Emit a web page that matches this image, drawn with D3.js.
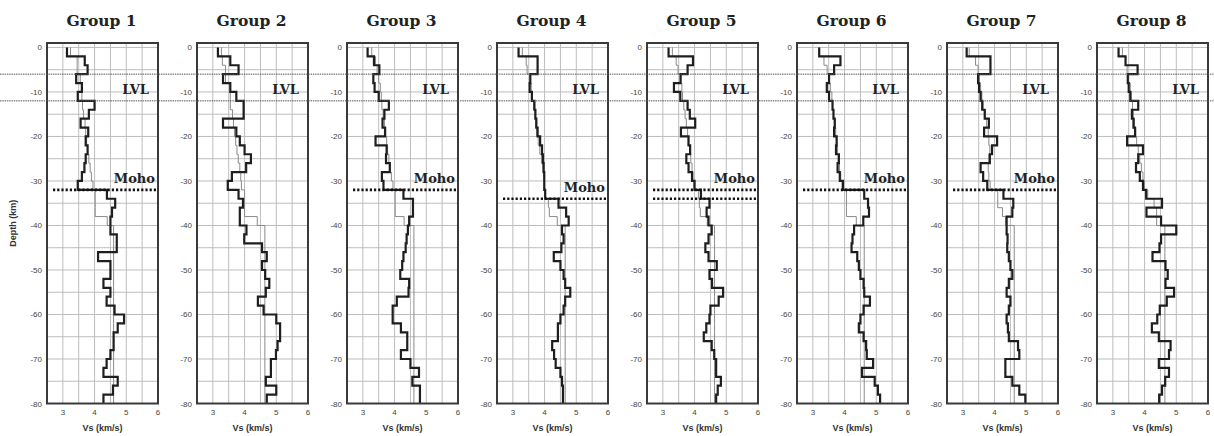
<!DOCTYPE html>
<html>
<head>
<meta charset="utf-8">
<script src="https://cdn.jsdelivr.net/npm/d3@7/dist/d3.min.js"></script>
<style>
  body { margin: 0; background: #fff; }
  svg { display: block; }
  .tick-label { font-family: "Liberation Sans", Arial, sans-serif; font-size: 8px; fill: #444; }
  .axis-title { font-family: "Liberation Sans", Arial, sans-serif; font-size: 9px; font-weight: bold; fill: #333; }
  .title { font-family: "DejaVu Serif", serif; font-size: 15.5px; font-weight: bold; fill: #222; }
  .note { font-family: "DejaVu Serif", serif; font-size: 13px; font-weight: bold; fill: #222; }
</style>
</head>
<body>
<svg id="chart"></svg>
<script>
'use strict';

var width = 1214, height = 436;

// Panel names
var groups = ["Group 1", "Group 2", "Group 3", "Group 4", "Group 5", "Group 6", "Group 7", "Group 8"];

// Layer tops (km), 2 km thick layers from surface to 80 km
var layerTops = d3.range(0, 80, 2);
var layerThickness = 2;

// Inverted Vs (km/s) per layer -- thick black line
var vsGroup1 = [3.13,3.69,3.78,3.42,3.6,3.47,4.0,3.82,3.56,3.8,3.72,3.78,3.72,3.68,3.6,3.47,
                4.39,4.65,4.55,4.5,4.5,4.7,4.7,4.11,4.5,4.5,4.28,4.5,4.38,4.63,4.93,4.73,4.6,4.6,4.5,4.38,4.28,4.73,4.58,4.28];
var vsGroup2 = [3.16,3.55,3.81,3.32,3.55,3.74,3.97,3.97,3.32,3.74,3.85,4.0,4.2,4.05,3.6,3.47,
                3.81,3.95,3.85,3.85,4.06,3.99,4.55,4.7,4.55,4.65,4.78,4.67,4.42,4.6,5.0,5.12,5.12,5.04,4.99,4.83,4.83,4.67,5.0,4.7];
var vsGroup3 = [3.15,3.35,3.52,3.33,3.37,3.5,3.82,3.68,3.62,3.7,3.4,3.75,3.73,3.85,3.6,3.65,
                4.28,4.58,4.58,4.46,4.42,4.38,4.35,4.28,4.24,4.18,4.46,4.44,4.07,3.94,3.94,4.2,4.4,4.4,4.2,4.5,4.77,4.56,4.8,4.8];
var vsGroup4 = [3.18,3.78,3.78,3.55,3.53,3.6,3.68,3.71,3.74,3.78,3.86,3.92,3.95,3.97,3.99,3.99,4.02,
                4.44,4.68,4.76,4.55,4.6,4.53,4.29,4.5,4.6,4.65,4.81,4.65,4.6,4.5,4.42,4.42,4.24,4.3,4.35,4.5,4.55,4.58,4.58];
var vsGroup5 = [3.18,3.95,3.78,3.56,3.35,3.55,3.78,3.85,4.02,3.57,3.81,3.86,3.74,3.81,3.92,4.0,4.2,
                4.47,4.38,4.44,4.54,4.44,4.34,4.44,4.7,4.47,4.55,4.9,4.76,4.5,4.47,4.37,4.29,4.54,4.62,4.68,4.68,4.83,4.73,4.68];
var vsGroup6 = [3.2,3.87,3.67,3.51,3.44,3.51,3.62,3.65,3.69,3.67,3.75,3.73,3.82,3.78,3.85,3.95,
                4.62,4.74,4.77,4.59,4.3,4.25,4.22,4.4,4.45,4.5,4.6,4.62,4.8,4.6,4.5,4.45,4.6,4.68,4.7,4.9,4.55,4.95,5.05,5.12];
var vsGroup7 = [3.12,3.87,3.87,3.48,3.51,3.56,3.61,3.69,3.82,3.67,4.08,3.92,3.85,3.56,3.64,3.77,
                4.28,4.59,4.56,4.38,4.38,4.41,4.4,4.45,4.5,4.56,4.45,4.38,4.5,4.45,4.38,4.42,4.45,4.74,4.78,4.34,4.34,4.56,4.78,4.97];
var vsGroup8 = [3.18,3.4,3.78,3.47,3.5,3.55,3.8,3.6,3.65,3.7,3.45,3.95,3.8,3.73,3.85,3.95,
                4.05,4.55,4.06,4.52,5.0,4.52,4.47,4.25,4.66,4.73,4.66,4.93,4.7,4.48,4.4,4.23,4.45,4.82,4.77,4.45,4.77,4.65,4.55,4.46];

// Reference Vs (km/s) per layer -- thin grey line
var refGroup1 = [3.24,3.45,3.45,3.55,3.6,3.6,3.62,3.65,3.7,3.72,3.75,3.78,3.82,3.86,3.9,3.95,4.02,4.02,4.02,4.4,
                 4.6,4.6,4.6,4.6,4.6,4.6,4.6,4.6,4.6,4.6,4.6,4.6,4.6,4.6,4.6,4.6,4.6,4.6,4.6,4.6];
var refGroup2 = [3.27,3.3,3.4,3.4,3.55,3.55,3.55,3.62,3.65,3.68,3.72,3.76,3.8,3.85,3.88,3.9,4.0,4.0,4.0,4.4,
                 4.64,4.64,4.64,4.64,4.64,4.64,4.64,4.64,4.64,4.64,4.64,4.64,4.64,4.64,4.64,4.64,4.64,4.64,4.64,4.64];
var refGroup3 = [3.28,3.4,3.45,3.5,3.55,3.58,3.6,3.64,3.68,3.72,3.75,3.78,3.82,3.85,3.9,3.95,4.02,4.02,4.02,4.3,
                 4.61,4.61,4.61,4.61,4.61,4.61,4.61,4.61,4.61,4.61,4.61,4.61,4.61,4.61,4.61,4.61,4.61,4.61,4.61,4.61];
var refGroup4 = [3.3,3.42,3.45,3.55,3.58,3.6,3.65,3.7,3.72,3.75,3.8,3.85,3.9,3.95,3.98,4.0,4.0,4.12,4.15,4.4,
                 4.65,4.65,4.65,4.65,4.65,4.65,4.65,4.65,4.65,4.65,4.65,4.65,4.65,4.65,4.65,4.65,4.65,4.65,4.65,4.65];
var refGroup5 = [3.3,3.42,3.48,3.55,3.6,3.62,3.66,3.7,3.74,3.78,3.8,3.84,3.88,3.92,3.95,3.98,4.12,4.15,4.18,4.4,
                 4.63,4.63,4.63,4.63,4.63,4.63,4.63,4.63,4.63,4.63,4.63,4.63,4.63,4.63,4.63,4.63,4.63,4.63,4.63,4.63];
var refGroup6 = [3.2,3.35,3.45,3.5,3.55,3.6,3.62,3.65,3.7,3.72,3.75,3.78,3.8,3.84,3.88,3.92,4.06,4.06,4.06,4.37,
                 4.62,4.62,4.62,4.62,4.62,4.62,4.62,4.62,4.62,4.62,4.62,4.62,4.62,4.62,4.62,4.62,4.62,4.62,4.62,4.62];
var refGroup7 = [3.2,3.4,3.48,3.52,3.56,3.6,3.64,3.7,3.75,3.8,3.82,3.85,3.82,3.8,3.82,3.86,4.1,4.1,4.25,4.35,
                 4.62,4.62,4.62,4.62,4.62,4.62,4.62,4.62,4.62,4.62,4.62,4.62,4.62,4.62,4.62,4.62,4.62,4.62,4.62,4.62];
var refGroup8 = [3.3,3.4,3.45,3.5,3.55,3.58,3.62,3.65,3.68,3.72,3.75,3.8,3.85,3.9,3.95,4.0,4.1,4.3,4.38,4.38,
                 4.64,4.64,4.64,4.64,4.64,4.64,4.64,4.64,4.64,4.64,4.64,4.64,4.64,4.64,4.64,4.64,4.64,4.64,4.64,4.64];

// Moho depths (km) per group, and which groups get a "Moho" label
var mohoDepths = [[32], [], [32], [34], [32, 34], [32], [32], []];
var mohoLabel = [true, false, true, true, true, true, true, false];

// Low velocity layer bounds (km)
var lvlDepths = [6, 12];

// Axis ticks
var vsTicks = [3, 4, 5, 6];
var vsGrid = [3, 3.5, 4, 4.5, 5, 5.5];
var depthTicks = [0, -10, -20, -30, -40, -50, -60, -70, -80];
var depthGrid = [0, -5, -10, -15, -20, -25, -30, -35, -40, -45, -50, -55, -60, -65, -70, -75];

var vsSeries = [vsGroup1, vsGroup2, vsGroup3, vsGroup4, vsGroup5, vsGroup6, vsGroup7, vsGroup8];
var refSeries = [refGroup1, refGroup2, refGroup3, refGroup4, refGroup5, refGroup6, refGroup7, refGroup8];

var svg = d3.select("#chart").attr("width", width).attr("height", height);

var firstLeft = 47, panelStep = 150, panelW = 111;
var plotTop = 43, plotBottom = 403.5;

var y = d3.scaleLinear().domain([1, -80]).range([plotTop, plotBottom]);

// stepped profile: vertical segment through each layer, horizontal jump at boundaries
function profilePoints(values) {
    var pts = [];
    values.forEach(function(v, i) {
        pts.push([v, -layerTops[i]]);
        pts.push([v, -(layerTops[i] + layerThickness)]);
    });
    return pts;
}

groups.forEach(function(name, gi) {
    var left = firstLeft + gi * panelStep;
    var x = d3.scaleLinear().domain([2.5, 6]).range([left, left + panelW]);
    var g = svg.append("g");

    // grid
    g.selectAll(".vgrid").data(vsGrid).enter().append("line")
        .attr("x1", d => x(d)).attr("x2", d => x(d))
        .attr("y1", plotTop).attr("y2", plotBottom)
        .attr("stroke", "#bdbdbd").attr("stroke-width", 1);
    g.selectAll(".hgrid").data(depthGrid).enter().append("line")
        .attr("x1", left).attr("x2", left + panelW)
        .attr("y1", d => y(d)).attr("y2", d => y(d))
        .attr("stroke", "#bdbdbd").attr("stroke-width", 1);

    var line = d3.line().x(d => x(d[0])).y(d => y(d[1]));

    g.append("path")
        .datum(profilePoints(refSeries[gi]))
        .attr("d", line)
        .attr("fill", "none")
        .attr("stroke", "#8a8a8a")
        .attr("stroke-width", 1);

    g.append("path")
        .datum(profilePoints(vsSeries[gi]))
        .attr("d", line)
        .attr("fill", "none")
        .attr("stroke", "#1e1e1e")
        .attr("stroke-width", 2.2)
        .attr("stroke-linejoin", "miter");

    // Moho
    mohoDepths[gi].forEach(function(m) {
        g.append("line")
            .attr("x1", left + 6).attr("x2", left + panelW)
            .attr("y1", y(-m)).attr("y2", y(-m))
            .attr("stroke", "#111")
            .attr("stroke-width", 2.6)
            .attr("stroke-dasharray", "2.2,2");
    });
    if (mohoLabel[gi]) {
        var m0 = d3.min(mohoDepths[gi]);
        g.append("text").attr("class", "note")
            .attr("x", left + panelW - 3).attr("y", y(-m0) - 7)
            .attr("text-anchor", "end")
            .text("Moho");
    }

    // LVL label
    g.append("text").attr("class", "note")
        .attr("x", left + panelW - 9).attr("y", y(-10.4))
        .attr("text-anchor", "end")
        .text("LVL");

    // frame
    g.append("rect")
        .attr("x", left).attr("y", plotTop)
        .attr("width", panelW).attr("height", plotBottom - plotTop)
        .attr("fill", "none").attr("stroke", "#3a3a3a").attr("stroke-width", 2);

    // tick labels
    g.selectAll(".ylab").data(depthTicks).enter().append("text")
        .attr("class", "tick-label")
        .attr("x", left - 5).attr("y", d => y(d) + 3)
        .attr("text-anchor", "end")
        .text(d => String(d));
    g.selectAll(".xlab").data(vsTicks).enter().append("text")
        .attr("class", "tick-label")
        .attr("x", d => x(d)).attr("y", 414.5)
        .attr("text-anchor", "middle")
        .text(d => d);

    g.append("text").attr("class", "axis-title")
        .attr("x", left + panelW / 2).attr("y", 431)
        .attr("text-anchor", "middle")
        .text("Vs (km/s)");

    g.append("text").attr("class", "title")
        .attr("x", left + panelW / 2 - 1).attr("y", 26)
        .attr("text-anchor", "middle")
        .text(name);

    if (gi === 0) {
        svg.append("text").attr("class", "axis-title")
            .attr("transform", "translate(16," + ((plotTop + plotBottom) / 2) + ") rotate(-90)")
            .attr("text-anchor", "middle")
            .text("Depth (km)");
    }
});

// LVL boundaries run across the whole figure
svg.selectAll(".lvl").data(lvlDepths).enter().append("line")
    .attr("x1", 0).attr("x2", width)
    .attr("y1", d => y(-d)).attr("y2", d => y(-d))
    .attr("stroke", "#555")
    .attr("stroke-width", 1)
    .attr("stroke-dasharray", "1.5,0.8");
</script>
</body>
</html>
